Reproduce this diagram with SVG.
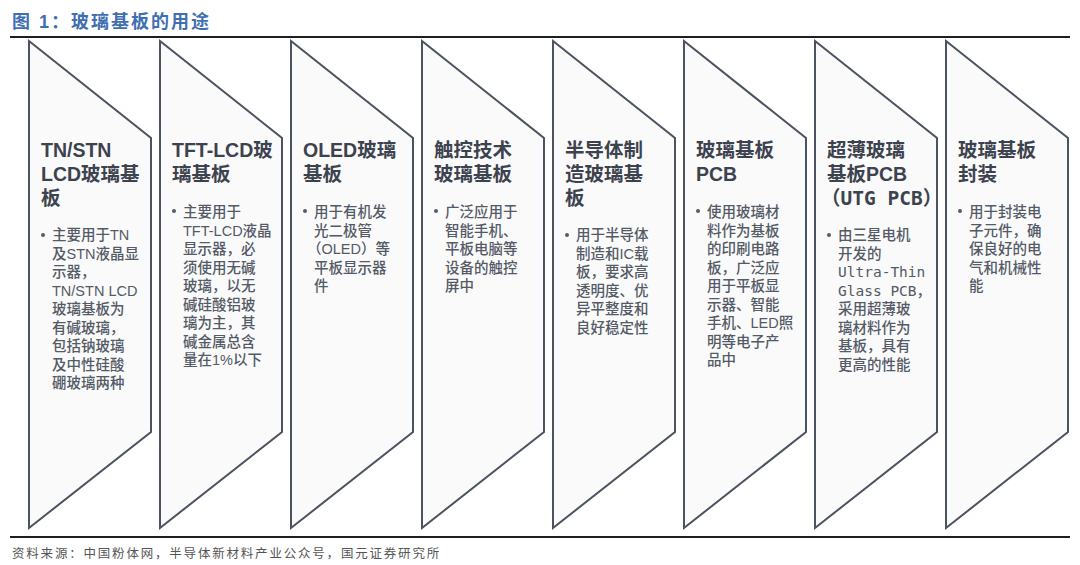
<svg xmlns="http://www.w3.org/2000/svg" width="1080" height="565" viewBox="0 0 1080 565">
<style>
.bg{fill:#ffffff}
.shape{fill:#fafafb;stroke:#4c5360;stroke-width:2;stroke-linejoin:miter}
.rule{stroke:#1e1e1e;stroke-width:2}
.title{font-family:"Liberation Sans","Noto Sans CJK SC",sans-serif;font-size:18px;font-weight:700;fill:#3f6fb1;letter-spacing:2px}
.head{font-family:"Liberation Sans","Noto Sans CJK SC",sans-serif;font-size:19.5px;font-weight:700;fill:#3d434e}
.body{font-family:"Liberation Sans","Noto Sans CJK SC",sans-serif;font-size:14.5px;font-weight:500;fill:#545a66}
.mono{font-family:"DejaVu Sans Mono","Noto Sans CJK SC",monospace}
.dot{fill:#545a66}
.src{font-family:"Liberation Sans","Noto Sans CJK SC",sans-serif;font-size:12.5px;fill:#555;letter-spacing:1.8px}
</style>
<defs>
<path id="chev" d="M0,41 L122,138 L122,432 L0,528 Z"/>
</defs>
<rect class="bg" width="1080" height="565"/>
<text class="title" x="12" y="28">图 1：玻璃基板的用途</text>
<line class="rule" x1="10" y1="37" x2="1070" y2="37"/>
<line class="rule" x1="10" y1="537" x2="1070" y2="537"/>

<g id="node1" transform="translate(29,0)">
<use href="#chev" class="shape"/>
<text class="head"><tspan x="12" y="157">TN/STN</tspan><tspan x="12" y="181">LCD玻璃基</tspan><tspan x="12" y="205">板</tspan></text>
<circle class="dot" cx="14" cy="235" r="2"/>
<text class="body"><tspan x="23" y="240">主要用于TN</tspan><tspan x="23" y="258.5">及STN液晶显</tspan><tspan x="23" y="277">示器，</tspan><tspan x="23" y="295.5">TN/STN LCD</tspan><tspan x="23" y="314">玻璃基板为</tspan><tspan x="23" y="332.5">有碱玻璃，</tspan><tspan x="23" y="351">包括钠玻璃</tspan><tspan x="23" y="369.5">及中性硅酸</tspan><tspan x="23" y="388">硼玻璃两种</tspan></text>
</g>

<g id="node2" transform="translate(160,0)">
<use href="#chev" class="shape"/>
<text class="head"><tspan x="12" y="157">TFT-LCD玻</tspan><tspan x="12" y="181">璃基板</tspan></text>
<circle class="dot" cx="14" cy="211" r="2"/>
<text class="body"><tspan x="23" y="217">主要用于</tspan><tspan x="23" y="235.5">TFT-LCD液晶</tspan><tspan x="23" y="254">显示器，必</tspan><tspan x="23" y="272.5">须使用无碱</tspan><tspan x="23" y="291">玻璃，以无</tspan><tspan x="23" y="309.5">碱硅酸铝玻</tspan><tspan x="23" y="328">璃为主，其</tspan><tspan x="23" y="346.5">碱金属总含</tspan><tspan x="23" y="365">量在1%以下</tspan></text>
</g>

<g id="node3" transform="translate(291,0)">
<use href="#chev" class="shape"/>
<text class="head"><tspan x="12" y="157">OLED玻璃</tspan><tspan x="12" y="181">基板</tspan></text>
<circle class="dot" cx="14" cy="211" r="2"/>
<text class="body"><tspan x="23" y="217">用于有机发</tspan><tspan x="23" y="235.5">光二极管</tspan><tspan x="16" y="254">（OLED）等</tspan><tspan x="23" y="272.5">平板显示器</tspan><tspan x="23" y="291">件</tspan></text>
</g>

<g id="node4" transform="translate(422,0)">
<use href="#chev" class="shape"/>
<text class="head"><tspan x="12" y="157">触控技术</tspan><tspan x="12" y="181">玻璃基板</tspan></text>
<circle class="dot" cx="14" cy="211" r="2"/>
<text class="body"><tspan x="23" y="217">广泛应用于</tspan><tspan x="23" y="235.5">智能手机、</tspan><tspan x="23" y="254">平板电脑等</tspan><tspan x="23" y="272.5">设备的触控</tspan><tspan x="23" y="291">屏中</tspan></text>
</g>

<g id="node5" transform="translate(553,0)">
<use href="#chev" class="shape"/>
<text class="head"><tspan x="12" y="157">半导体制</tspan><tspan x="12" y="181">造玻璃基</tspan><tspan x="12" y="205">板</tspan></text>
<circle class="dot" cx="14" cy="235" r="2"/>
<text class="body"><tspan x="23" y="240">用于半导体</tspan><tspan x="23" y="258.5">制造和IC载</tspan><tspan x="23" y="277">板，要求高</tspan><tspan x="23" y="295.5">透明度、优</tspan><tspan x="23" y="314">异平整度和</tspan><tspan x="23" y="332.5">良好稳定性</tspan></text>
</g>

<g id="node6" transform="translate(684,0)">
<use href="#chev" class="shape"/>
<text class="head"><tspan x="12" y="157">玻璃基板</tspan><tspan x="12" y="181">PCB</tspan></text>
<circle class="dot" cx="14" cy="211" r="2"/>
<text class="body"><tspan x="23" y="217">使用玻璃材</tspan><tspan x="23" y="235.5">料作为基板</tspan><tspan x="23" y="254">的印刷电路</tspan><tspan x="23" y="272.5">板，广泛应</tspan><tspan x="23" y="291">用于平板显</tspan><tspan x="23" y="309.5">示器、智能</tspan><tspan x="23" y="328">手机、LED照</tspan><tspan x="23" y="346.5">明等电子产</tspan><tspan x="23" y="365">品中</tspan></text>
</g>

<g id="node7" transform="translate(815,0)">
<use href="#chev" class="shape"/>
<text class="head"><tspan x="12" y="157">超薄玻璃</tspan><tspan x="12" y="181">基板PCB</tspan><tspan x="6" y="205" class="mono">（UTG PCB）</tspan></text>
<circle class="dot" cx="14" cy="235" r="2"/>
<text class="body"><tspan x="23" y="240">由三星电机</tspan><tspan x="23" y="258.5">开发的</tspan><tspan x="23" y="277" class="mono">Ultra-Thin</tspan><tspan x="23" y="295.5" class="mono">Glass PCB，</tspan><tspan x="23" y="314">采用超薄玻</tspan><tspan x="23" y="332.5">璃材料作为</tspan><tspan x="23" y="351">基板，具有</tspan><tspan x="23" y="369.5">更高的性能</tspan></text>
</g>

<g id="node8" transform="translate(946,0)">
<use href="#chev" class="shape"/>
<text class="head"><tspan x="12" y="157">玻璃基板</tspan><tspan x="12" y="181">封装</tspan></text>
<circle class="dot" cx="14" cy="211" r="2"/>
<text class="body"><tspan x="23" y="217">用于封装电</tspan><tspan x="23" y="235.5">子元件，确</tspan><tspan x="23" y="254">保良好的电</tspan><tspan x="23" y="272.5">气和机械性</tspan><tspan x="23" y="291">能</tspan></text>
</g>

<g id="connectors"></g>

<text class="src" x="12" y="558">资料来源：中国粉体网，半导体新材料产业公众号，国元证券研究所</text>
</svg>
